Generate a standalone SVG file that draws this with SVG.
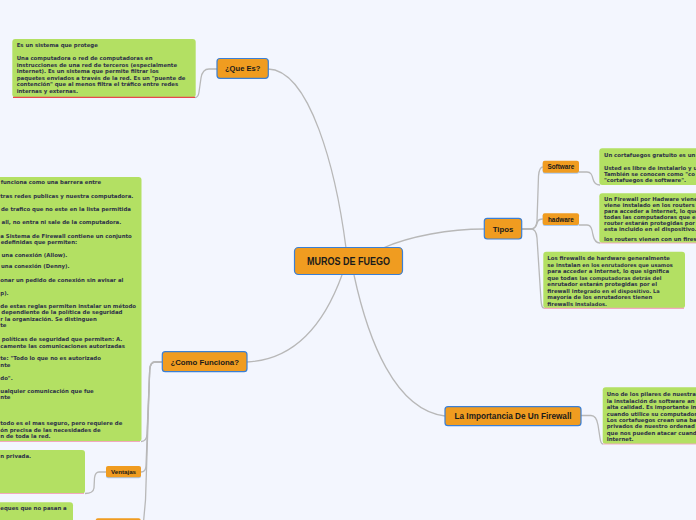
<svg xmlns="http://www.w3.org/2000/svg" width="696" height="520" viewBox="0 0 696 520">
<style>
.conn{fill:none;stroke:#b8b8b8;stroke-width:1.3}
.main{fill:#f09c20;stroke:#3a7fd5;stroke-width:1.2}
.sub{fill:#f09c20}
.subsh{fill:#a9c8ee}
.note{fill:#b3e063}
.ul{stroke:#f2a9bd;stroke-width:1.2}
.ulr{stroke:#e8474c;stroke-width:1.2}
.lbl{font-family:"Liberation Sans",Arial,sans-serif;font-weight:bold;fill:#1a1a1a;text-anchor:middle}
.nt{font-family:"DejaVu Sans",Verdana,sans-serif;font-weight:bold;font-size:5.4px;fill:#2e3248}
.sm{font-size:5.1px}
</style>
<rect width="696" height="520" fill="#f3f6fe"/>
<g id="connectors">
<path class="conn" d="M346 248 C336 170 310 70 268 69"/>
<path class="conn" d="M383 248 C410 236 450 229 484 229"/>
<path class="conn" d="M342 275 C322 330 290 360 247 362"/>
<path class="conn" d="M354 275 C368 340 395 410 445 416"/>
<path class="conn" d="M217 69 L209 69 C204 69 202 72 201 78 L199 92 C198.5 96 197 97.5 195 97.5"/>
<path class="conn" d="M162 362 L155 362 C151 362 150 365 149.7 370 L147 434 C146.8 439 145 441.5 141 441.5"/>
<path class="conn" d="M162 362 L155 362 C151 362 150 365 149.7 370 L146 466 C145.8 470 144.5 472 141 472"/>
<path class="conn" d="M162 362 L155 362 C151 362 150 365 149.7 370 L145.5 500 L143.5 522"/>
<path class="conn" d="M106 472 L99 472 C96 472 95 474 94.5 478 L94 488 C93.5 492 91 493.5 85 493.5"/>
<path class="conn" d="M522 229 L531 229 C535 229 536.5 226 537 221 L538.5 176 C539 170 540 167 543 167"/>
<path class="conn" d="M522 229 L531 229 C535 229 536.5 226 537.5 222 C538 220 540 219 543 219"/>
<path class="conn" d="M522 229 L531 229 C535 229 536.5 232 537 238 L541 300 C541.5 306 542 308 544 308"/>
<path class="conn" d="M579 172 L587 172 C591 172 592 175 593 179 C594 183 596 185 600 185"/>
<path class="conn" d="M579 225 L587 225 C591 225 592 229 593 235 C594 240 596 243 600 243"/>
<path class="conn" d="M581 415.5 L591 415.5 C595 415.5 597 419 598 425 L600 438 C600.5 442 601.5 444 603 444"/>
</g>
<g id="center">
<rect class="main" x="294.5" y="247.5" width="108" height="27" rx="4"/>
<text class="lbl" x="348.5" y="265" font-size="11" textLength="83" lengthAdjust="spacingAndGlyphs">MUROS DE FUEGO</text>
</g>
<g id="que-es">
<rect class="main" x="217" y="58.5" width="51.3" height="19.8" rx="3"/>
<text class="lbl" x="242.7" y="71.2" font-size="7.6">¿Que Es?</text>
</g>
<g id="note-que-es">
<rect class="note" x="12.3" y="39" width="183.4" height="58.3" rx="3"/>
<line class="ulr" x1="13" y1="97.3" x2="195" y2="97.3"/>
<text class="nt" x="16.7"><tspan x="16.7" y="47">Es un sistema que protege</tspan><tspan x="16.7" y="60">Una computadora o red de computadoras en</tspan><tspan x="16.7" y="66.5">instrucciones de una red de terceros (especialmente</tspan><tspan x="16.7" y="73">Internet). Es un sistema que permite filtrar los</tspan><tspan x="16.7" y="79.5">paquetes enviados a través de la red. Es un "puente de</tspan><tspan x="16.7" y="86">contención" que al menos filtra el tráfico entre redes</tspan><tspan x="16.7" y="92.5">internas y externas.</tspan></text>
</g>
<g id="como-funciona">
<rect class="main" x="162.3" y="351.7" width="84.7" height="20" rx="3"/>
<text class="lbl" x="204.7" y="364.6" font-size="7.8">¿Como Funciona?</text>
</g>
<g id="note-como">
<rect class="note" x="-5" y="177" width="146.5" height="264.5" rx="3"/>
<line class="ul" x1="-5" y1="441.5" x2="140" y2="441.5"/>
<text class="nt"><tspan x="0.7" y="184.3">funciona como una barrera entre</tspan><tspan x="0.3" y="198.3">tras redes publicas y nuestra computadora.</tspan><tspan x="1" y="211">de trafico que no este en la lista permitida</tspan><tspan x="1.5" y="224.3">all, no entra ni sale de la computadora.</tspan><tspan x="0.3" y="237.8">a Sistema de Firewall contiene un conjunto</tspan><tspan x="0.7" y="244.2">edefinidas que permiten:</tspan><tspan x="1.5" y="257">una conexión (Allow).</tspan><tspan x="1" y="267.8">una conexión (Denny).</tspan><tspan x="0.3" y="282.3">onar un pedido de conexión sin avisar al</tspan><tspan x="0.3" y="295.3">p).</tspan><tspan x="0.3" y="307.7">de estas reglas permiten instalar un método</tspan><tspan x="1.3" y="314.3">dependiente de la política de seguridad</tspan><tspan x="0.3" y="320.8">r la organización. Se distinguen</tspan><tspan x="0.3" y="327.3">te</tspan><tspan x="1.7" y="341.3">políticas de seguridad que permiten: A.</tspan><tspan x="0.3" y="347.6">camente las comunicaciones autorizadas</tspan><tspan x="0.3" y="360.3">te: "Todo lo que no es autorizado</tspan><tspan x="0.3" y="366.6">nte</tspan><tspan x="0.3" y="379.7">do".</tspan><tspan x="0.3" y="392.7">ualquier comunicación que fue</tspan><tspan x="0.3" y="399">nte</tspan><tspan x="0.3" y="425">todo es el mas seguro, pero requiere de</tspan><tspan x="0.3" y="431.5">ón precisa de las necesidades de</tspan><tspan x="0.3" y="437.8">n de toda la red.</tspan></text>
</g>
<g id="ventajas">
<rect class="subsh" x="106" y="467" width="35" height="11.3" rx="2"/>
<rect class="sub" x="106" y="466" width="35" height="11.3" rx="2"/>
<text class="lbl" x="123.5" y="474" font-size="6.2">Ventajas</text>
</g>
<g id="note-ventajas">
<rect class="note" x="-5" y="450" width="90" height="43.5" rx="3"/>
<line class="ul" x1="-5" y1="493.5" x2="84" y2="493.5"/>
<text class="nt" x="0.3" y="458">n privada.</text>
</g>
<g id="note-bottom">
<rect class="note" x="-5" y="502.3" width="78" height="30" rx="3"/>
<text class="nt" x="0.3" y="510.3">eques que no pasan a</text>
</g>
<g id="bottom-node">
<rect class="sub" x="95.7" y="518.3" width="45" height="12" rx="2"/>
</g>
<g id="tipos">
<rect class="main" x="484.3" y="218.3" width="37.4" height="20.7" rx="3"/>
<text class="lbl" x="503" y="231.6" font-size="7.8">Tipos</text>
</g>
<g id="software">
<rect class="subsh" x="542.7" y="161.7" width="36.3" height="12" rx="2"/>
<rect class="sub" x="542.7" y="160.7" width="36.3" height="12" rx="2"/>
<text class="lbl" x="560.9" y="169" font-size="6.4">Software</text>
</g>
<g id="note-software">
<rect class="note" x="599.3" y="148.3" width="110" height="36.7" rx="3"/>
<text class="nt"><tspan x="604" y="157">Un cortafuegos gratuito es un</tspan><tspan x="604" y="169.7">Usted es libre de instalarlo y u</tspan><tspan x="604" y="175.9">También se conocen como "co</tspan><tspan x="604" y="182.1">"cortafuegos de software".</tspan></text>
</g>
<g id="hadware">
<rect class="subsh" x="542.7" y="214.3" width="36.3" height="11.7" rx="2"/>
<rect class="sub" x="542.7" y="213.3" width="36.3" height="11.7" rx="2"/>
<text class="lbl" x="560.9" y="221.6" font-size="6.4">hadware</text>
</g>
<g id="note-hadware">
<rect class="note" x="599.3" y="193.3" width="110" height="49.7" rx="3"/>
<line class="ul" x1="600" y1="243" x2="696" y2="243"/>
<text class="nt"><tspan x="604" y="201.3">Un Firewall por Hadware viene</tspan><tspan x="604" y="207.4">viene instalado en los routers</tspan><tspan x="604" y="213.3">para acceder a Internet, lo que</tspan><tspan x="604" y="219.3">todas las computadoras que e</tspan><tspan x="604" y="225.3">router estarán protegidas por</tspan><tspan x="604" y="231.3">esta incluido en el dispositivo.</tspan><tspan x="604" y="240.5">los routers vienen con un firew</tspan></text>
</g>
<g id="note-hardware2">
<rect class="note" x="543.3" y="251.7" width="141.7" height="56.6" rx="3"/>
<line class="ul" x1="544" y1="308.3" x2="684" y2="308.3"/>
<text class="nt"><tspan x="547.3" y="260.3">Los firewalls de hardware generalmente</tspan><tspan x="547.3" y="266.8">se instalan <tspan class="sm">en los enrutadores que usamos</tspan></tspan><tspan x="547.3" y="273.3">para acceder a Internet, lo que significa</tspan><tspan x="547.3" y="279.8">que todas <tspan class="sm">las computadoras detrás del</tspan></tspan><tspan x="547.3" y="286.3">enrutador estarán protegidas por el</tspan><tspan x="547.3" y="292.8">firewall int<tspan class="sm">egrado en el dispositivo. La</tspan></tspan><tspan x="547.3" y="299.3">mayoría de los enrutadores tienen</tspan><tspan x="547.3" y="305.8">firewalls in<tspan class="sm">stalados.</tspan></tspan></text>
</g>
<g id="importancia">
<rect class="main" x="445" y="406.7" width="136" height="19" rx="3"/>
<text class="lbl" x="513" y="419" font-size="8.2">La Importancia De Un Firewall</text>
</g>
<g id="note-importancia">
<rect class="note" x="602.7" y="387.3" width="110" height="56.7" rx="3"/>
<line class="ul" x1="603" y1="444" x2="696" y2="444"/>
<text class="nt"><tspan x="606.7" y="396.3">Uno de los pilares de nuestra</tspan><tspan x="606.7" y="402.7">la instalación de software an</tspan><tspan x="606.7" y="409.1">alta calidad. Es importante in</tspan><tspan x="606.7" y="415.5">cuando utilice su computador</tspan><tspan x="606.7" y="421.9">Los cortafuegos crean una ba</tspan><tspan x="606.7" y="428.3">privados de nuestro ordenad</tspan><tspan x="606.7" y="434.7">que nos pueden atacar cuand</tspan><tspan x="606.7" y="441.1">Internet.</tspan></text>
</g>
</svg>
